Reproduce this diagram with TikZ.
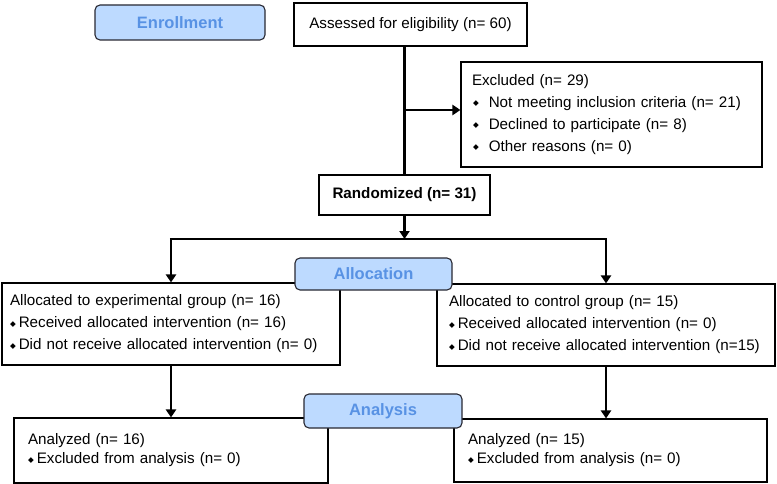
\documentclass[tikz,border=0pt]{standalone}
\usepackage{fontspec}
\setmainfont{Liberation Sans}
\newfontfamily\dvfont{DejaVu Sans}
\usetikzlibrary{arrows.meta}
\definecolor{lblfill}{RGB}{189,218,255}
\definecolor{lbltext}{RGB}{88,146,228}
\definecolor{lbldraw}{RGB}{40,40,50}
\newcommand{\bul}{\raisebox{1.5pt}{\dvfont\fontsize{7.5}{7.5}\selectfont ◆}}
\begin{document}
\begin{tikzpicture}[x=1pt,y=-1pt,
  box/.style={draw=black, line width=1.1pt, fill=white, inner ysep=0pt, font=\fontsize{15.2}{22}\selectfont},
  lbl/.style={draw=lbldraw, line width=1.1pt, fill=lblfill, rounded corners=5pt, text=lbltext, font=\fontsize{16.5}{18}\selectfont\bfseries, inner sep=0pt},
  conn/.style={line width=2.4pt, black},
  arr/.style={conn, -{Triangle[width=10pt,length=8pt]}}]
\useasboundingbox (0,0) rectangle (777,484);

\node[box, minimum width=233pt, minimum height=43pt, inner xsep=0pt] (assess) at (410.5,24.5) {Assessed for eligibility (n= 60)};
\node[box, minimum width=301pt, minimum height=105pt, inner xsep=11pt, text width=279pt, align=left] (excl) at (611.5,114.5)
  {Excluded (n= 29)\\
   \hspace*{1pt}\bul\hspace{10pt}Not meeting inclusion criteria (n= 21)\\
   \hspace*{1pt}\bul\hspace{10pt}Declined to participate (n= 8)\\
   \hspace*{1pt}\bul\hspace{10pt}Other reasons (n= 0)};
\node[box, minimum width=171pt, minimum height=40pt, inner xsep=0pt, font=\fontsize{15.2}{16}\selectfont\bfseries] (rand) at (404.5,195) {Randomized (n= 31)};

\node[box, minimum width=338pt, minimum height=82pt, inner xsep=8pt, text width=322pt, align=left] (leftal) at (171,324)
  {Allocated to experimental group (n= 16)\\
   \bul\hspace{3pt}Received allocated intervention (n= 16)\\
   \bul\hspace{3pt}Did not receive allocated intervention (n= 0)};
\node[box, minimum width=338pt, minimum height=82pt, inner xsep=12pt, text width=314pt, align=left] (rightal) at (606,325)
  {Allocated to control group (n= 15)\\
   \bul\hspace{3pt}Received allocated intervention (n= 0)\\
   \bul\hspace{3pt}Did not receive allocated intervention (n=15)};

\node[box, minimum width=314pt, minimum height=65pt, inner xsep=14pt, text width=286pt, align=left, font=\fontsize{15.2}{19}\selectfont] (leftan) at (171,450.5)
  {Analyzed (n= 16)\\
   \bul\hspace{3pt}Excluded from analysis (n= 0)};
\node[box, minimum width=313pt, minimum height=63pt, inner xsep=14pt, text width=285pt, align=left, font=\fontsize{15.2}{19}\selectfont] (rightan) at (610.5,450.5)
  {Analyzed (n= 15)\\
   \bul\hspace{3pt}Excluded from analysis (n= 0)};

\coordinate (j1) at (404.5,110);
\coordinate (split) at (404.5,239);
\coordinate (sl) at (171,239);
\coordinate (sr) at (606,239);

\draw[conn] (rand.north |- assess.south) -- (rand.north);
\draw[arr] (j1) -- (j1 -| excl.west);
\draw[arr] (rand.south) -- (split);
\draw[conn] ([xshift=-1.2pt]sl) -- ([xshift=1.2pt]sr);
\draw[arr] (sl) -- (leftal.north);
\draw[arr] (sr) -- (rightal.north);
\draw[arr] (leftal.south) -- (leftan.north);
\draw[arr] (rightal.south) -- (rightal.south |- rightan.north);

\node[lbl, minimum width=170pt, minimum height=35pt] (enroll) at (180,22.5) {Enrollment};
\node[lbl, minimum width=157pt, minimum height=32pt] (alloc) at (373.5,274) {Allocation};
\node[lbl, minimum width=158pt, minimum height=34pt] (analysis) at (383,411) {Analysis};
\end{tikzpicture}
\end{document}
